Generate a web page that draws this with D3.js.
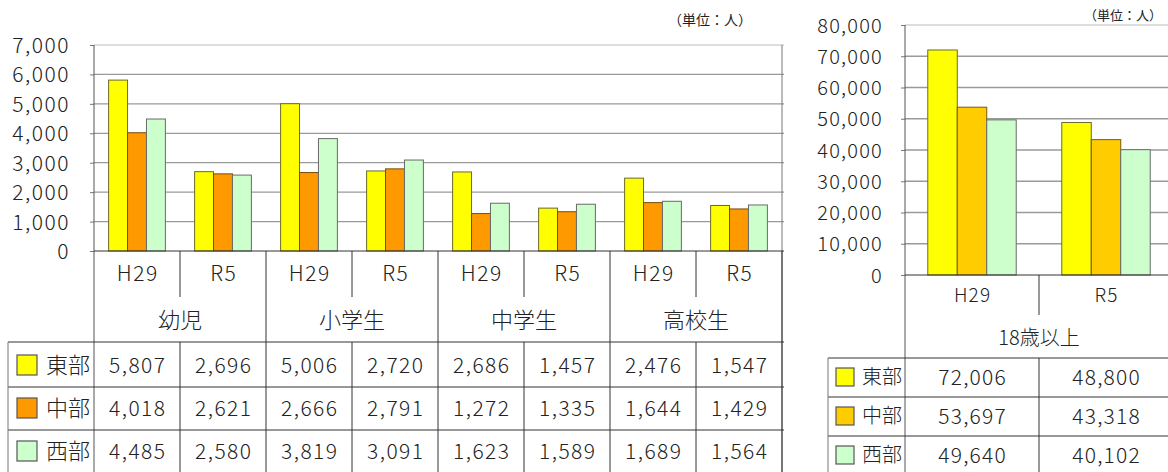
<!DOCTYPE html>
<html><head><meta charset="utf-8">
<script src="https://cdn.jsdelivr.net/npm/d3@7"></script>
<style>
body{margin:0;background:#fff;overflow:hidden}
svg{display:block}
text{font-family:"Noto Sans CJK JP","Noto Sans",sans-serif;font-weight:300;fill:#222}
</style>
</head><body>
<svg id="c" width="1168" height="472"></svg>
<script>
// ---- data ----
const groups = ["幼児","小学生","中学生","高校生"];
const periods = ["H29","R5"];
const seriesNames = ["東部","中部","西部"];
const eastVals   = [5807,2696,5006,2720,2686,1457,2476,1547];
const centerVals = [4018,2621,2666,2791,1272,1335,1644,1429];
const westVals   = [4485,2580,3819,3091,1623,1589,1689,1564];
const adultGroup = "18歳以上";
const adultEast   = [72006,48800];
const adultCenter = [53697,43318];
const adultWest   = [49640,40102];
const yTicksLeft  = [0,1000,2000,3000,4000,5000,6000,7000];
const yTicksRight = [0,10000,20000,30000,40000,50000,60000,70000,80000];
const unitLabel = "（単位：人）";

const fmt = d3.format(",");
const svg = d3.select("#c");
const lineCol = "#333", gridCol = "#9a9a9a";

function panel(o){
  const g = svg.append("g");
  const cols = [];
  o.groups.forEach(gr => o.periods.forEach(p => cols.push(gr+"|"+p)));
  const x = d3.scaleBand().domain(cols).range([o.x0, o.x1]);
  const bw = x.bandwidth();
  const xs = d3.scaleBand().domain(seriesNames).range([bw*0.17, bw*0.83]);
  const y = d3.scaleLinear().domain([0, o.ymax]).range([o.yb, o.yt]);
  const vals = [o.east, o.center, o.west];
  const ls = o.ls;

  g.append("line").attr("x1",o.x0).attr("x2",o.gridEnd).attr("y1",o.yt).attr("y2",o.yt).attr("stroke","#bbb");
  g.selectAll(".grid").data(o.ticks.filter(t=>t>0 && t<o.ymax)).join("line")
    .attr("x1",o.x0).attr("x2",o.gridEnd).attr("y1",d=>y(d)).attr("y2",d=>y(d))
    .attr("stroke",gridCol).attr("stroke-width",1.3);
  if (o.rightBorder) g.append("line").attr("x1",o.x1).attr("x2",o.x1).attr("y1",o.yt).attr("y2",472).attr("stroke","#777");

  cols.forEach((c,i) => {
    seriesNames.forEach((s,k) => {
      const v = vals[k][i];
      g.append("rect")
        .attr("x", x(c)+xs(s)).attr("width", xs.bandwidth())
        .attr("y", y(v)).attr("height", y(0)-y(v))
        .attr("fill", o.colors[k]).attr("stroke", o.strokes[k]).attr("stroke-width",1);
    });
  });

  const ax = d3.axisLeft(y).tickValues(o.ticks).tickFormat(fmt).tickSize(4).tickPadding(o.tickPad);
  const ag = g.append("g").attr("transform",`translate(${o.x0},0)`).call(ax);
  ag.attr("font-family",null).attr("font-size",null);
  ag.select(".domain").remove();
  ag.selectAll(".tick line").attr("stroke","#777");
  ag.selectAll(".tick text").style("font-size",o.yFont+"px").style("letter-spacing",ls+"px")
    .attr("fill","#222").attr("dy","0.36em");
  g.append("line").attr("x1",o.x0).attr("x2",o.x0).attr("y1",o.yt).attr("y2",472).attr("stroke","#555");
  g.append("line").attr("x1",o.x0).attr("x2",o.gridEnd).attr("y1",o.yb).attr("y2",o.yb).attr("stroke",lineCol);

  cols.forEach((c,i) => {
    const cx = x(c)+bw/2;
    g.append("text").attr("x",cx+ls/2).attr("y",o.catY).attr("text-anchor","middle").attr("dy","0.36em")
      .style("font-size",o.catFont+"px").style("letter-spacing",ls+"px").text(c.split("|")[1]);
    if (i%2===1){
      g.append("line").attr("x1",x(c)+bw).attr("x2",x(c)+bw).attr("y1",o.yb).attr("y2",472).attr("stroke",lineCol);
    } else {
      g.append("line").attr("x1",x(c)+bw).attr("x2",x(c)+bw).attr("y1",o.yb).attr("y2",o.divEnd).attr("stroke",lineCol);
      g.append("line").attr("x1",x(c)+bw).attr("x2",x(c)+bw).attr("y1",o.rowTops[0]).attr("y2",472).attr("stroke",lineCol);
    }
  });
  o.groups.forEach((gr,j) => {
    const cx = x(gr+"|"+o.periods[0]) + bw;
    g.append("text").attr("x",cx).attr("y",o.grpY).attr("text-anchor","middle").attr("dy","0.36em")
      .style("font-size",o.grpFont+"px").text(gr);
  });

  o.rowTops.forEach(t => g.append("line").attr("x1",o.legX).attr("x2",o.gridEnd).attr("y1",t).attr("y2",t).attr("stroke",lineCol));
  g.append("line").attr("x1",o.legX).attr("x2",o.legX).attr("y1",o.rowTops[0]).attr("y2",472).attr("stroke","#777");
  seriesNames.forEach((s,k) => {
    const cy = o.rowCY[k];
    g.append("rect").attr("x",o.keyX).attr("y",cy-o.keyS/2).attr("width",o.keyS).attr("height",o.keyS)
      .attr("fill",o.colors[k]).attr("stroke","#555").attr("stroke-width",1.2);
    g.append("text").attr("x",o.keyX+o.keyS+o.legGap).attr("y",cy).attr("dy","0.36em")
      .style("font-size",o.legFont+"px").text(s);
    cols.forEach((c,i) => {
      g.append("text").attr("x",x(c)+bw/2+ls/2).attr("y",cy).attr("dy","0.36em").attr("text-anchor","middle")
        .style("font-size",o.valFont+"px").style("letter-spacing",ls+"px").text(fmt(vals[k][i]));
    });
  });
  g.append("text").attr("x",o.unitX).attr("y",o.unitY).attr("dy","0.36em")
    .style("font-size",o.unitFont+"px").style("font-weight",400).attr("fill","#444").text(unitLabel);
}

panel({
  groups: groups, periods: periods, east: eastVals, center: centerVals, west: westVals,
  x0: 94, x1: 782, gridEnd: 784, yt: 45, yb: 251, ymax: 7000, ticks: yTicksLeft,
  tickPad: 20, yFont: 21, ls: 1.5, rightBorder: true,
  colors: ["#ffff00","#ff9900","#ccffcc"], strokes: ["#6b6b2a","#7a4a10","#6a6a6a"],
  catY: 273, catFont: 21, divEnd: 297, grpY: 320, grpFont: 22,
  rowTops: [342,387,430], rowCY: [365,408,451], legX: 8, keyX: 17, keyS: 20, legGap: 9, legFont: 22, valFont: 21,
  unitX: 668, unitY: 20, unitFont: 14
});
panel({
  groups: [adultGroup], periods: periods, east: adultEast, center: adultCenter, west: adultWest,
  x0: 905, x1: 1173, gridEnd: 1168, yt: 25, yb: 275, ymax: 80000, ticks: yTicksRight,
  tickPad: 18, yFont: 20, ls: 1.2, rightBorder: false,
  colors: ["#ffff00","#ffcc00","#ccffcc"], strokes: ["#6b6b2a","#7a5a10","#6a6a6a"],
  catY: 295, catFont: 19, divEnd: 315, grpY: 338, grpFont: 20,
  rowTops: [358,397,436], rowCY: [377,416,455], legX: 828, keyX: 836, keyS: 18, legGap: 8, legFont: 20, valFont: 21,
  unitX: 1084, unitY: 15, unitFont: 13
});
</script>
</body></html>
